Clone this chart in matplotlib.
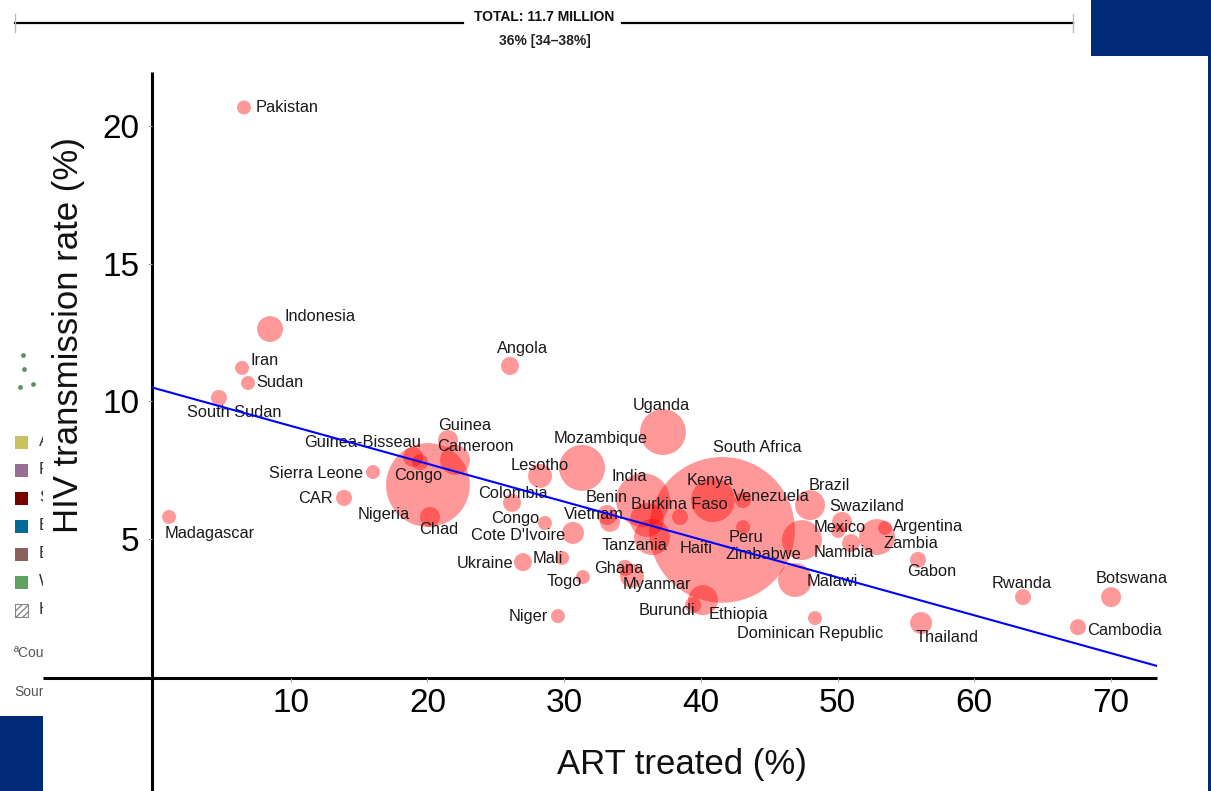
import matplotlib
matplotlib.use("Agg")
import matplotlib.pyplot as plt
import numpy as np
from matplotlib import font_manager
from matplotlib.patches import Rectangle
from matplotlib.transforms import Bbox, TransformedBbox

# ---- data ----
countries = ["Pakistan", "Indonesia", "Iran", "Sudan", "South Sudan", "Madagascar",
             "Angola", "Uganda", "Guinea", "Guinea-Bisseau", "Cameroon", "Congo",
             "Sierra Leone", "CAR", "Nigeria", "Chad", "Mozambique", "Lesotho",
             "Colombia", "Congo", "Cote D'Ivoire", "Ukraine", "Mali", "Togo", "Niger",
             "India", "Benin", "Vietnam", "Burkina Faso", "Tanzania", "South Africa",
             "Kenya", "Venezuela", "Haiti", "Peru", "Zimbabwe", "Ghana", "Myanmar",
             "Burundi", "Ethiopia", "Dominican Republic", "Brazil", "Swaziland",
             "Mexico", "Argentina", "Zambia", "Namibia", "Malawi", "Gabon", "Rwanda",
             "Botswana", "Cambodia", "Thailand"]

art_treated = [6.58, 8.49, 6.44, 6.88, 4.75, 1.10,
               26.04, 37.23, 21.51, 18.95, 22.02, 19.46,
               16.02, 13.90, 20.04, 20.19, 31.31, 28.24,
               26.19, 28.60, 30.65, 26.99, 29.85, 31.38, 29.55,
               35.77, 33.14, 33.36, 36.06, 36.43, 41.55,
               40.89, 43.09, 38.48, 43.09, 47.40, 34.46, 34.97,
               39.43, 40.16, 48.35, 47.99, 50.33,
               50.04, 53.47, 52.89, 50.99, 46.89, 55.89, 63.57,
               70.01, 67.59, 56.11]

transmission = [20.67, 12.63, 11.22, 10.67, 10.13, 5.81,
                11.29, 8.89, 8.60, 7.99, 7.88, 7.80,
                7.44, 6.50, 6.97, 5.81, 7.59, 7.30,
                6.32, 5.59, 5.23, 4.17, 4.32, 3.63, 2.21,
                6.42, 5.88, 5.63, 5.70, 5.08, 5.34,
                6.42, 6.42, 5.81, 5.44, 4.97, 3.96, 3.67,
                2.61, 2.79, 2.14, 6.24, 5.63,
                5.30, 5.41, 5.08, 4.86, 3.52, 4.25, 2.90,
                2.90, 1.81, 1.96]

# people living with HIV (thousands)
plhiv = [58, 199, 58, 58, 76, 58,
         96, 624, 118, 118, 266, 76,
         58, 76, 2080, 118, 624, 170,
         96, 58, 143, 96, 58, 58, 58,
         860, 118, 118, 341, 382, 6290,
         571, 76, 76, 58, 472, 76, 170,
         76, 266, 58, 266, 118,
         58, 58, 382, 96, 341, 76, 76,
         118, 76, 143]

# fitted line
fit_intercept = 10.49
fit_slope = -0.1375

# label offsets from bubble centre, in pixels (right, down)
label_offsets = [(12, 0), (14, -13), (8, -7), (8, -1), (-32, 15), (-4, 17),
                 (-13, -17), (-30, -27), (-10, -15), (-109, -14), (-18, -13), (-26, 13),
                 (-104, 1), (-46, 1), (-70, 30), (-11, 13), (-28, -29), (-29, -10),
                 (-34, -9), (-54, -4), (-102, 3), (-66, 1), (-29, 1), (-36, 5), (-49, 0),
                 (-31, -24), (-21, -18), (-46, -7), (-16, -15), (-50, 8), (-9, -82),
                 (-26, -20), (-10, -4), (0, 32), (-14, 10), (-76, 14), (-31, 1), (-9, 9),
                 (-54, 5), (6, 14), (-78, 15), (-1, -20), (-13, -15),
                 (-24, -3), (8, -1), (6, 6), (-37, 9), (12, 1), (-11, 12), (-31, -14),
                 (-15, -19), (9, 3), (-5, 14)]

x_ticks = [10, 20, 30, 40, 50, 60, 70]
y_ticks = [5, 10, 15, 20]

# what is left visible of the page legend behind the chart
legend_colors = ["#c9c35f", "#976e96", "#7a0000", "#006a98", "#8c615c", "#60a060"]
legend_letters = ["A", "F", "S", "E", "E", "W", "H"]

# ---- figure ----
plt.rcParams["font.family"] = ["Liberation Sans", "DejaVu Sans"]
installed = {f.name for f in font_manager.fontManager.ttflist}
narrow = "Liberation Sans Narrow" if "Liberation Sans Narrow" in installed else "Liberation Sans"

W, H = 1211, 791
fig = plt.figure(figsize=(W / 100, H / 100), dpi=100)

bg = fig.add_axes([0, 0, 1, 1], zorder=0)
bg.set_xlim(0, W)
bg.set_ylim(H, 0)
bg.axis("off")

navy = "#002a78"
bg.add_patch(Rectangle((1091, 0), 120, 56, color=navy, lw=0))
bg.add_patch(Rectangle((1207.5, 56), 4, H - 56, color=navy, lw=0))
bg.add_patch(Rectangle((0, 716), 43, H - 716, color=navy, lw=0))

# banner at the top
bg.plot([15, 463], [22.5, 22.5], color="black", lw=1.6)
bg.plot([622, 1073], [22.5, 22.5], color="black", lw=1.6)
bg.plot([15, 15], [14, 32], color="#bbbbbb", lw=1)
bg.plot([1073, 1073], [14, 32], color="#bbbbbb", lw=1)
bsize = 12 if narrow != "Liberation Sans" else 10
bg.text(544, 17, "TOTAL: 11.7 MILLION", family=narrow, weight="bold", size=bsize,
        ha="center", va="center", color="#111111")
bg.text(545, 41, "36% [34\u201338%]", family=narrow, weight="bold", size=bsize,
        ha="center", va="center", color="#222222")

# clipped leftovers of the page behind
clip = TransformedBbox(Bbox([[0, 0], [43 / W, 1]]), fig.transFigure)
left_texts = []
for i, letter in enumerate(legend_letters):
    yc = 442 + i * 28
    if i < len(legend_colors):
        bg.add_patch(Rectangle((15, yc - 6.5), 13, 13, color=legend_colors[i], lw=0))
    else:
        bg.add_patch(Rectangle((15, yc - 6.5), 13, 13, facecolor="white",
                               edgecolor="#888888", hatch="/////", lw=0.8))
    left_texts.append(bg.text(39, yc, letter, size=12, va="center", ha="left",
                              color="#333333"))
left_texts.append(bg.text(14, 653, "\u00aaCountries", family=narrow, size=10,
                          va="center", color="#555555"))
left_texts.append(bg.text(14, 692, "Source", family=narrow, size=10,
                          va="center", color="#555555"))
for t in left_texts:
    t.set_clip_box(clip)
    t.set_clip_on(True)
bg.scatter([23, 24, 20, 33], [355, 369, 387, 384], s=12, color="#5e8f5e", lw=0)

# axis lines (cross style)
bg.plot([152, 152], [71.7, H], color="black", lw=2.2, solid_capstyle="butt")
bg.plot([43, 1157], [678, 678], color="black", lw=2.2, solid_capstyle="butt")

# ---- main plot ----
ax = fig.add_axes([152 / W, 1 - 678 / H, (1157 - 152) / W, (678 - 71.7) / H], zorder=1)
ax.patch.set_alpha(0)
ax.set_xlim(-0.146, 73.37)
ax.set_ylim(-0.036, 21.97)
for sp in ax.spines.values():
    sp.set_visible(False)

ax.scatter(art_treated, transmission, s=np.array(plhiv) * 1.75, color="red",
           alpha=0.4, lw=0, zorder=2)

for name, x, y, (dx, dy) in zip(countries, art_treated, transmission, label_offsets):
    ax.annotate(name, (x, y), xytext=(dx * 0.72, -dy * 0.72), textcoords="offset points",
                ha="left", va="center", size=11.8, color="#1a1a1a", zorder=3)

xs = np.array(ax.get_xlim())
ax.plot(xs, fit_intercept + fit_slope * xs, color="#0000ff", lw=1.5, zorder=4)

ax.set_xticks(x_ticks)
ax.set_yticks(y_ticks)
ax.tick_params(axis="both", length=3, width=0.8, color="#aaaaaa", labelsize=24)
ax.tick_params(axis="x", pad=4)
ax.tick_params(axis="y", pad=6)

fig.text(78 / W, 1 - 335 / H, "HIV transmission rate (%)", rotation=90,
         rotation_mode="anchor", ha="center", va="baseline", size=25, color="#111111")
fig.text(682 / W, 1 - 774 / H, "ART treated (%)", ha="center", va="baseline",
         size=25, color="#111111")

fig.savefig("out.png", dpi=100)
